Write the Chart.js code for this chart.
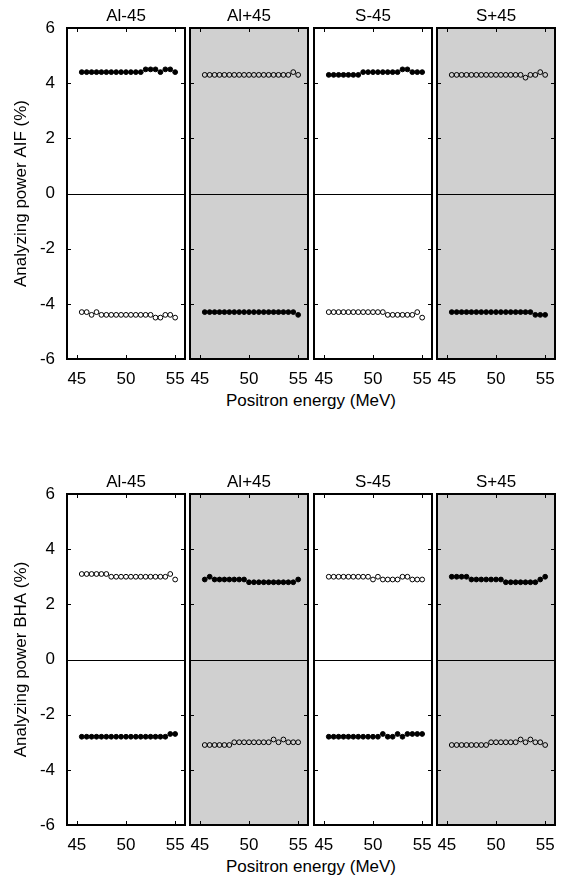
<!DOCTYPE html>
<html>
<head>
<meta charset="utf-8">
<script src="https://cdn.jsdelivr.net/npm/chart.js@4.4.0/dist/chart.umd.min.js"></script>
<style>
    body {
        margin: 0;
        width: 574px;
        height: 879px;
        position: relative;
        overflow: hidden;
        background: #fff;
        font-family: "Liberation Sans", Arial, sans-serif;
    }
    .panel { position: absolute; }
    .xtitle {
        position: absolute;
        left: 67px;
        width: 488px;
        text-align: center;
        font-size: 17px;
        line-height: 20px;
        color: #000;
    }
</style>
</head>
<body>
<script>
// positron energy (MeV) of each measurement
const energy = [45.5, 46, 46.5, 47, 47.5, 48, 48.5, 49, 49.5, 50, 50.5, 51, 51.5, 52, 52.5, 53, 53.5, 54, 54.5, 55];

const panelNames = ['Al-45', 'Al+45', 'S-45', 'S+45'];
const xTicks = [45, 50, 55];
const yTicks = [-6, -4, -2, 0, 2, 4, 6];

// analyzing power AIF (%)
const aifAlMinusUp   = [4.4, 4.4, 4.4, 4.4, 4.4, 4.4, 4.4, 4.4, 4.4, 4.4, 4.4, 4.4, 4.4, 4.5, 4.5, 4.5, 4.4, 4.5, 4.5, 4.4];
const aifAlMinusDown = [-4.3, -4.3, -4.4, -4.3, -4.4, -4.4, -4.4, -4.4, -4.4, -4.4, -4.4, -4.4, -4.4, -4.4, -4.4, -4.5, -4.5, -4.4, -4.4, -4.5];
const aifAlPlusUp    = [4.3, 4.3, 4.3, 4.3, 4.3, 4.3, 4.3, 4.3, 4.3, 4.3, 4.3, 4.3, 4.3, 4.3, 4.3, 4.3, 4.3, 4.3, 4.4, 4.3];
const aifAlPlusDown  = [-4.3, -4.3, -4.3, -4.3, -4.3, -4.3, -4.3, -4.3, -4.3, -4.3, -4.3, -4.3, -4.3, -4.3, -4.3, -4.3, -4.3, -4.3, -4.3, -4.4];
const aifSMinusUp    = [4.3, 4.3, 4.3, 4.3, 4.3, 4.3, 4.3, 4.4, 4.4, 4.4, 4.4, 4.4, 4.4, 4.4, 4.4, 4.5, 4.5, 4.4, 4.4, 4.4];
const aifSMinusDown  = [-4.3, -4.3, -4.3, -4.3, -4.3, -4.3, -4.3, -4.3, -4.3, -4.3, -4.3, -4.3, -4.4, -4.4, -4.4, -4.4, -4.4, -4.4, -4.3, -4.5];
const aifSPlusUp     = [4.3, 4.3, 4.3, 4.3, 4.3, 4.3, 4.3, 4.3, 4.3, 4.3, 4.3, 4.3, 4.3, 4.3, 4.3, 4.2, 4.3, 4.3, 4.4, 4.3];
const aifSPlusDown   = [-4.3, -4.3, -4.3, -4.3, -4.3, -4.3, -4.3, -4.3, -4.3, -4.3, -4.3, -4.3, -4.3, -4.3, -4.3, -4.3, -4.3, -4.4, -4.4, -4.4];

// analyzing power BHA (%)
const bhaAlMinusUp   = [3.1, 3.1, 3.1, 3.1, 3.1, 3.1, 3.0, 3.0, 3.0, 3.0, 3.0, 3.0, 3.0, 3.0, 3.0, 3.0, 3.0, 3.0, 3.1, 2.9];
const bhaAlMinusDown = [-2.8, -2.8, -2.8, -2.8, -2.8, -2.8, -2.8, -2.8, -2.8, -2.8, -2.8, -2.8, -2.8, -2.8, -2.8, -2.8, -2.8, -2.8, -2.7, -2.7];
const bhaAlPlusUp    = [2.9, 3.0, 2.9, 2.9, 2.9, 2.9, 2.9, 2.9, 2.9, 2.8, 2.8, 2.8, 2.8, 2.8, 2.8, 2.8, 2.8, 2.8, 2.8, 2.9];
const bhaAlPlusDown  = [-3.1, -3.1, -3.1, -3.1, -3.1, -3.1, -3.0, -3.0, -3.0, -3.0, -3.0, -3.0, -3.0, -3.0, -2.9, -3.0, -2.9, -3.0, -3.0, -3.0];
const bhaSMinusUp    = [3.0, 3.0, 3.0, 3.0, 3.0, 3.0, 3.0, 3.0, 3.0, 2.9, 3.0, 2.9, 2.9, 2.9, 2.9, 3.0, 3.0, 2.9, 2.9, 2.9];
const bhaSMinusDown  = [-2.8, -2.8, -2.8, -2.8, -2.8, -2.8, -2.8, -2.8, -2.8, -2.8, -2.8, -2.7, -2.8, -2.8, -2.7, -2.8, -2.7, -2.7, -2.7, -2.7];
const bhaSPlusUp     = [3.0, 3.0, 3.0, 3.0, 2.9, 2.9, 2.9, 2.9, 2.9, 2.9, 2.9, 2.8, 2.8, 2.8, 2.8, 2.8, 2.8, 2.8, 2.9, 3.0];
const bhaSPlusDown   = [-3.1, -3.1, -3.1, -3.1, -3.1, -3.1, -3.1, -3.1, -3.0, -3.0, -3.0, -3.0, -3.0, -3.0, -2.9, -3.0, -2.9, -3.0, -3.0, -3.1];

const rows = [
    {
        yTitle: 'Analyzing power AIF (%)',
        up: [aifAlMinusUp, aifAlPlusUp, aifSMinusUp, aifSPlusUp],
        down: [aifAlMinusDown, aifAlPlusDown, aifSMinusDown, aifSPlusDown],
        upFilled: [true, false, true, false],
    },
    {
        yTitle: 'Analyzing power BHA (%)',
        up: [bhaAlMinusUp, bhaAlPlusUp, bhaSMinusUp, bhaSPlusUp],
        down: [bhaAlMinusDown, bhaAlPlusDown, bhaSMinusDown, bhaSPlusDown],
        upFilled: [false, true, false, true],
    },
];

// layout (px)
const boxLefts = [67, 190, 314, 437];
const boxW = 118;
const boxTop = 28;
const boxH = 331;
const rowOffset = 466;
const bottomSpace = 30;
const shaded = [false, true, false, true];

Chart.defaults.font.family = '"Liberation Sans", Arial, sans-serif';
Chart.defaults.font.size = 17;
Chart.defaults.color = '#000';

// grey background, zero line, inward ticks and frame, all placed with the scales
const framePlugin = {
    id: 'frame',
    beforeDraw(chart, args, opts) {
        if (!opts.shade) return;
        const { ctx, chartArea: a } = chart;
        ctx.save();
        ctx.fillStyle = '#d0d0d0';
        ctx.fillRect(a.left, a.top, a.width, a.height);
        ctx.restore();
    },
    beforeDatasetsDraw(chart) {
        const { ctx, chartArea: a, scales } = chart;
        const y0 = Math.round(scales.y.getPixelForValue(0)) + 0.5;
        ctx.save();
        ctx.strokeStyle = '#000';
        ctx.lineWidth = 1;
        ctx.beginPath();
        ctx.moveTo(a.left, y0);
        ctx.lineTo(a.right, y0);
        ctx.stroke();
        ctx.restore();
    },
    afterDatasetsDraw(chart) {
        const { ctx, chartArea: a, scales } = chart;
        const len = 4;
        ctx.save();
        ctx.strokeStyle = '#000';
        ctx.lineWidth = 1;
        ctx.beginPath();
        xTicks.forEach(v => {
            const px = Math.round(scales.x.getPixelForValue(v)) + 0.5;
            ctx.moveTo(px, a.top);
            ctx.lineTo(px, a.top + len);
            ctx.moveTo(px, a.bottom);
            ctx.lineTo(px, a.bottom - len);
        });
        yTicks.forEach(v => {
            const py = Math.round(scales.y.getPixelForValue(v)) + 0.5;
            ctx.moveTo(a.left, py);
            ctx.lineTo(a.left + len, py);
            ctx.moveTo(a.right, py);
            ctx.lineTo(a.right - len, py);
        });
        ctx.stroke();
        ctx.lineWidth = 2;
        ctx.strokeRect(a.left, a.top, a.width, a.height);
        ctx.restore();
    }
};

function pointSet(values, filled) {
    return {
        data: values.map((v, i) => ({ x: energy[i], y: v })),
        showLine: false,
        pointRadius: 2.4,
        pointBorderWidth: 1,
        pointBorderColor: '#000',
        pointBackgroundColor: filled ? '#000' : 'rgba(0,0,0,0)',
        clip: false,
    };
}

function renderPanel(row, r, p) {
    const first = p === 0;
    const padL = first ? boxLefts[0] : 3;
    const padR = 3;
    const width = padL + boxW + padR;
    const height = boxTop + boxH + bottomSpace;

    const holder = document.createElement('div');
    holder.className = 'panel';
    holder.style.left = (boxLefts[p] - padL) + 'px';
    holder.style.top = (r * rowOffset) + 'px';
    holder.style.width = width + 'px';
    holder.style.height = height + 'px';
    const canvas = document.createElement('canvas');
    canvas.width = width;
    canvas.height = height;
    holder.appendChild(canvas);
    document.body.appendChild(holder);

    new Chart(canvas, {
        type: 'scatter',
        data: {
            datasets: [
                pointSet(row.up[p], row.upFilled[p]),
                pointSet(row.down[p], !row.upFilled[p]),
            ],
        },
        options: {
            responsive: false,
            animation: false,
            events: [],
            layout: { padding: { left: 0, right: padR, top: 0, bottom: 0 }, autoPadding: false },
            plugins: {
                legend: { display: false },
                tooltip: { enabled: false },
                title: {
                    display: true,
                    text: panelNames[p],
                    fullSize: false,
                    color: '#000',
                    font: { size: 17, weight: 'normal' },
                    padding: { top: 6, bottom: 1.6 },
                },
                frame: { shade: shaded[p] },
            },
            scales: {
                x: {
                    type: 'linear',
                    min: 44,
                    max: 56,
                    grid: { display: false, drawTicks: false },
                    border: { display: false },
                    afterBuildTicks: axis => { axis.ticks = xTicks.map(v => ({ value: v })); },
                    afterFit: axis => {
                        axis.height = bottomSpace;
                        axis.paddingLeft = 0;
                        axis.paddingRight = 0;
                    },
                    ticks: { padding: 10.5, autoSkip: false, maxRotation: 0, font: { size: 17 } },
                },
                y: {
                    type: 'linear',
                    min: -6,
                    max: 6,
                    grid: { display: false, drawTicks: false },
                    border: { display: false },
                    afterBuildTicks: axis => { axis.ticks = yTicks.map(v => ({ value: v })); },
                    afterFit: axis => {
                        axis.width = padL;
                        axis.paddingTop = 0;
                        axis.paddingBottom = 0;
                    },
                    ticks: { display: first, padding: 12, font: { size: 17 } },
                    title: {
                        display: first,
                        text: row.yTitle,
                        font: { size: 17 },
                        padding: { top: 11, bottom: 0 },
                    },
                },
            },
        },
        plugins: [framePlugin],
    });
}

function addXTitle(r) {
    const div = document.createElement('div');
    div.className = 'xtitle';
    div.style.top = (391 + r * rowOffset) + 'px';
    div.textContent = 'Positron energy (MeV)';
    document.body.appendChild(div);
}

rows.forEach((row, r) => {
    for (let p = 0; p < panelNames.length; p++) {
        renderPanel(row, r, p);
    }
    addXTitle(r);
});
</script>
</body>
</html>
